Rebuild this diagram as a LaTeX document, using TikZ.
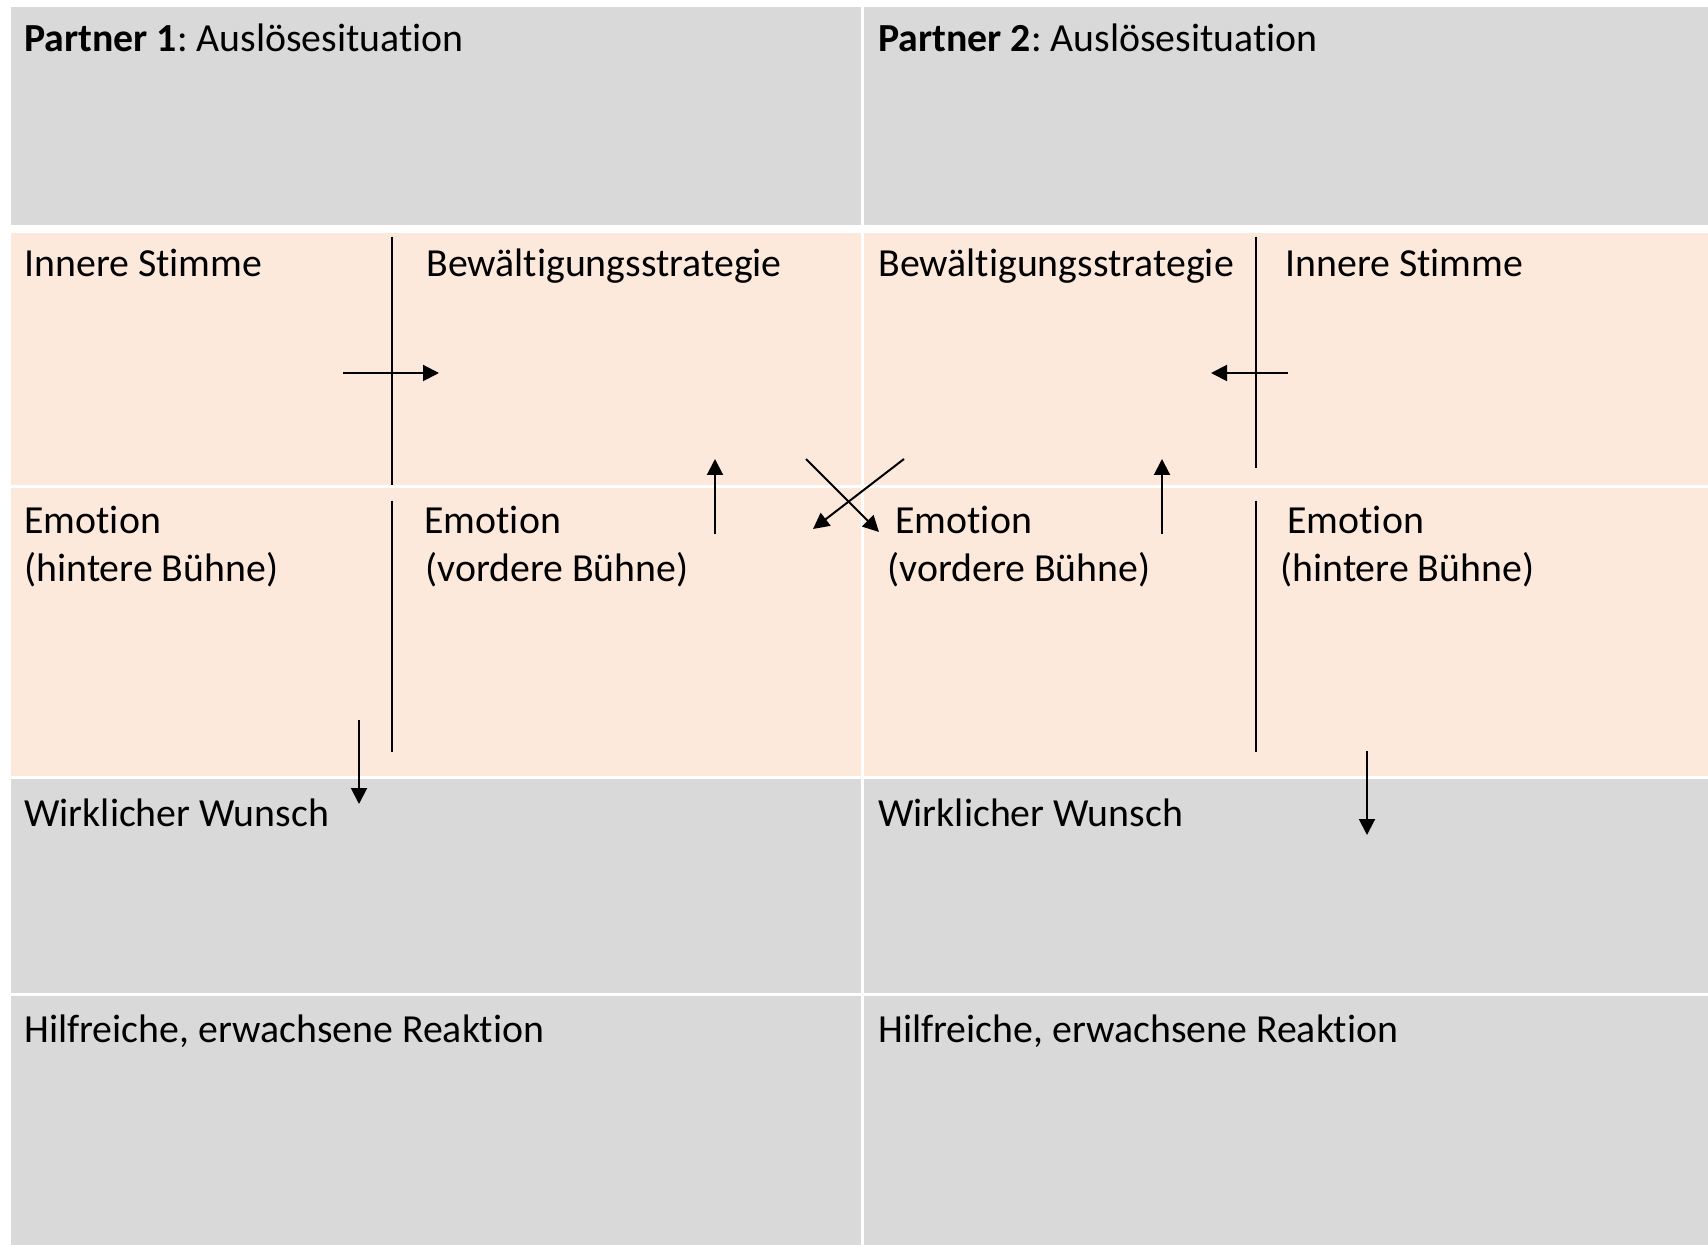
\documentclass[tikz,border=0pt]{standalone}
\usepackage{fontspec}
\setmainfont[Ligatures=NoCommon]{Carlito}
\usetikzlibrary{arrows.meta}
\definecolor{cellgray}{HTML}{D9D9D9}
\definecolor{cellpeach}{HTML}{FCE9DB}
\begin{document}
\frenchspacing
\begin{tikzpicture}[x=0.5pt,y=-0.5pt,
  lbl/.style={anchor=base west, inner sep=0pt, font=\fontsize{19.9}{24}\selectfont},
  conn/.style={line width=1pt, black},
  arr/.style={conn, -{Triangle[length=8pt,width=8pt]}},
  grayfill/.style={fill=cellgray},
  peachfill/.style={fill=cellpeach}]
\fill[white] (0,0) rectangle (1708,1245);
\useasboundingbox (0,0) rectangle (1708,1245);
% cells
\fill[grayfill] (11,7) rectangle (861,225);
\fill[grayfill] (864,7) rectangle (1708,225);
\fill[peachfill] (11,233) rectangle (861,485);
\fill[peachfill] (864,233) rectangle (1708,485);
\fill[peachfill] (11,488) rectangle (861,776);
\fill[peachfill] (864,488) rectangle (1708,776);
\fill[grayfill] (11,779) rectangle (861,993);
\fill[grayfill] (864,779) rectangle (1708,993);
\fill[grayfill] (11,996) rectangle (861,1245);
\fill[grayfill] (864,996) rectangle (1708,1245);
% texts
\node[lbl] (p1) at (24,52) {\textbf{Partner 1}: Auslösesituation};
\node[lbl] (p2) at (878,52) {\textbf{Partner 2}: Auslösesituation};
\node[lbl] (is1) at (24,277) {Innere Stimme};
\node[lbl] (bw1) at (426,277) {Bewältigungsstrategie};
\node[lbl] (bw2) at (878,277) {Bewältigungsstrategie};
\node[lbl] (is2) at (1285,277) {Innere Stimme};
\node[lbl] (eh1a) at (24,534) {Emotion};
\node[lbl] (eh1b) at (24,582) {(hintere Bühne)};
\node[lbl] (ev1a) at (424,534) {Emotion};
\node[lbl] (ev1b) at (425,582) {(vordere Bühne)};
\node[lbl] (ev2a) at (895,534) {Emotion};
\node[lbl] (ev2b) at (887,582) {(vordere Bühne)};
\node[lbl] (eh2a) at (1287,534) {Emotion};
\node[lbl] (eh2b) at (1280,582) {(hintere Bühne)};
\node[lbl] (ww1) at (24,826) {Wirklicher Wunsch};
\node[lbl] (ww2) at (878,826) {Wirklicher Wunsch};
\node[lbl] (hr1) at (24,1042) {Hilfreiche, erwachsene Reaktion};
\node[lbl] (hr2) at (878,1042) {Hilfreiche, erwachsene Reaktion};
% connector coordinates
\coordinate (L1t) at (392,237); \coordinate (L1b) at (392,485);
\coordinate (L2t) at (392,501); \coordinate (L2b) at (392,752);
\coordinate (LHs) at (343,373); \coordinate (LHe) at (439,373);
\coordinate (LUs) at (715,534); \coordinate (LUe) at (715,459);
\coordinate (XAs) at (806,459); \coordinate (XAe) at (879,532);
\coordinate (XBs) at (904,459); \coordinate (XBe) at (813,529);
\coordinate (RUs) at (1162,534); \coordinate (RUe) at (1162,459);
\coordinate (R1t) at (1256,237); \coordinate (R1b) at (1256,468);
\coordinate (RHs) at (1288,373); \coordinate (RHe) at (1211,373);
\coordinate (R2t) at (1256,501); \coordinate (R2b) at (1256,752);
\coordinate (LDs) at (359,720); \coordinate (LDe) at (359,804);
\coordinate (RDs) at (1367,751); \coordinate (RDe) at (1367,835);
% connectors
\draw[conn] (L1t) -- (L1b);
\draw[conn] (L2t) -- (L2b);
\draw[arr] (LHs) -- (LHe);
\draw[arr] (LUs) -- (LUe);
\draw[arr] (XAs) -- (XAe);
\draw[arr] (XBs) -- (XBe);
\draw[arr] (RUs) -- (RUe);
\draw[conn] (R1t) -- (R1b);
\draw[arr] (RHs) -- (RHe);
\draw[conn] (R2t) -- (R2b);
\draw[arr] (LDs) -- (LDe);
\draw[arr] (RDs) -- (RDe);
\end{tikzpicture}
\end{document}
